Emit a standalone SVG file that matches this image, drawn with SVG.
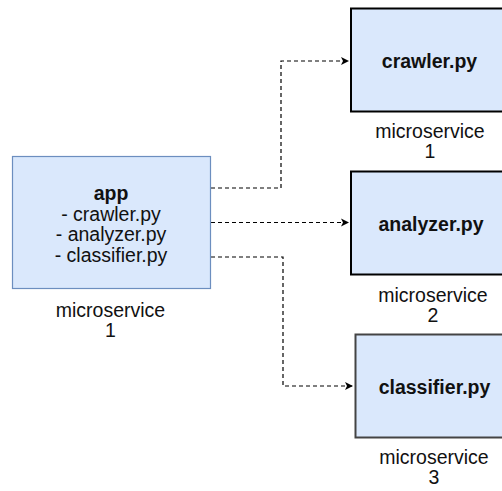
<svg xmlns="http://www.w3.org/2000/svg" width="502" height="491" viewBox="0 0 502 491">
<defs>
<marker id="arr" markerWidth="10" markerHeight="10" refX="9" refY="5" orient="auto" markerUnits="userSpaceOnUse">
<path d="M1,1 L9,5 L1,9 L3,5 Z" fill="#000"/>
</marker>
<style>
text{font-family:"Liberation Sans",Arial,sans-serif;font-size:19.5px;fill:#111;text-anchor:middle}
.b{font-weight:bold}
.box{fill:#dae8fc}
.conn{fill:none;stroke:#000;stroke-width:1.2;stroke-dasharray:4 3}
</style>
</defs>
<rect width="502" height="491" fill="#fff"/>
<g id="connectors">
<path class="conn" d="M211,188 H281 V61 H349" marker-end="url(#arr)"/>
<path class="conn" d="M211,222.5 H349" marker-end="url(#arr)"/>
<path class="conn" d="M211,257 H283 V386 H353" marker-end="url(#arr)"/>
</g>
<g id="app">
<rect class="box" x="12.5" y="156.5" width="198" height="132" stroke="#6c8ebf" stroke-width="1.2"/>
<text x="111" y="200" class="b">app</text>
<text x="111" y="220.5">- crawler.py</text>
<text x="111" y="241">- analyzer.py</text>
<text x="111" y="261.5">- classifier.py</text>
<text x="110.5" y="316.5">microservice</text>
<text x="110.5" y="336.5">1</text>
</g>
<g id="crawler">
<rect class="box" x="351" y="8.5" width="160" height="103" stroke="#000" stroke-width="2"/>
<text x="429.5" y="68" class="b">crawler.py</text>
<text x="430" y="138">microservice</text>
<text x="430" y="158">1</text>
</g>
<g id="analyzer">
<rect class="box" x="351" y="171.5" width="160" height="103" stroke="#000" stroke-width="2"/>
<text x="431" y="230.5" class="b">analyzer.py</text>
<text x="433" y="301.5">microservice</text>
<text x="433" y="321.5">2</text>
</g>
<g id="classifier">
<rect class="box" x="355.5" y="334.5" width="160" height="103" stroke="#444" stroke-width="2"/>
<text x="434.5" y="394" class="b">classifier.py</text>
<text x="434" y="464">microservice</text>
<text x="434" y="484">3</text>
</g>
</svg>
